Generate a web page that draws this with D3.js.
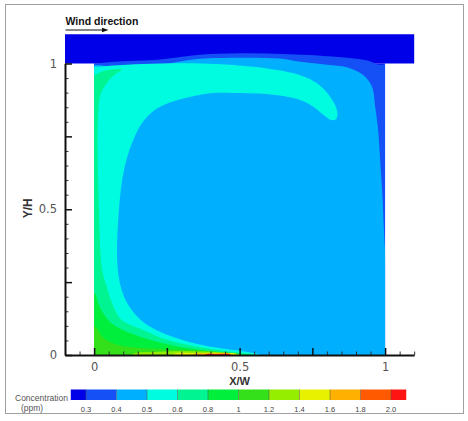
<!DOCTYPE html>
<html><head><meta charset="utf-8">
<script src="https://cdn.jsdelivr.net/npm/d3@7"></script>
<style>
html,body{margin:0;padding:0;background:#fff;}
svg{display:block;}
</style></head><body>
<svg id="chart" width="468" height="421"></svg>
<script>
// ---------- data ----------
const xMajorTicks = [0, 0.25, 0.5, 0.75, 1];
const xTickLabels = {"0": "0", "0.5": "0.5", "1": "1"};
const yMajorTicks = [0, 0.25, 0.5, 0.75, 1];
const yTickLabels = {"0": "0", "0.5": "0.5", "1": "1"};
const legendLabels = ["0.3", "0.4", "0.5", "0.6", "0.8", "1", "1.2", "1.4", "1.6", "1.8", "2.0"];
const levelColors = ["#0000e8", "#1450f5", "#00b0ff", "#00fce0", "#00f592", "#00ee3c",
                     "#33e01a", "#95ee00", "#e8f200", "#ffb000", "#ff5a00", "#ff1414"];

// contour regions (x/W, y/H), painted from lowest to highest level
const bandTop = [[-0.1, 1], [1.1, 1], [1.1, 1.1], [-0.1, 1.1]];
const cavityTopDark = [[0, 0.95], [1, 0.95], [1, 1.0], [0, 1.0]];
const level1Region = [[-0.05, 1.0], [0, 1.0], [0.066, 1.006], [0.227, 1.014], [0.364, 1.03], [0.5, 1.035],
  [0.65, 1.033], [0.82, 1.024], [0.94, 1.01], [0.975, 0.997], [1.05, 0.99], [1.06, -0.05], [-0.06, -0.05]];
const level2Region = [[-0.05, 0.975], [0.1, 0.985], [0.2, 0.99], [0.28, 1.004], [0.364, 1.016], [0.5, 1.02],
  [0.639, 1.017], [0.708, 1.006], [0.8, 0.996], [0.869, 0.987], [0.924, 0.961], [0.955, 0.92], [0.966, 0.852],
  [0.976, 0.772], [0.983, 0.669], [0.991, 0.543], [0.996, 0.429], [1.0, 0.36], [1.006, 0.3], [1.05, 0.2],
  [1.06, -0.05], [-0.06, -0.05]];
const level3Region = [[-0.05, 0.989], [0, 0.989], [0.112, 0.996], [0.227, 1.0], [0.364, 1.0], [0.478, 0.995],
  [0.595, 0.983], [0.708, 0.96], [0.766, 0.932], [0.811, 0.886], [0.835, 0.838], [0.832, 0.81], [0.815, 0.806],
  [0.8, 0.815], [0.753, 0.852], [0.708, 0.875], [0.593, 0.895], [0.478, 0.899], [0.40, 0.898], [0.34, 0.888],
  [0.26, 0.866], [0.205, 0.838], [0.168, 0.8], [0.142, 0.755], [0.122, 0.705], [0.106, 0.65], [0.095, 0.59],
  [0.087, 0.52], [0.082, 0.45], [0.079, 0.38], [0.08, 0.31], [0.087, 0.255], [0.101, 0.205], [0.125, 0.16],
  [0.16, 0.12], [0.205, 0.09], [0.26, 0.066], [0.32, 0.046], [0.39, 0.03], [0.478, 0.017], [0.536, 0.009],
  [0.57, 0.0], [0.6, -0.05], [-0.06, -0.05]];
const level4Region = [[-0.05, 0.96], [0, 0.96], [0.03, 0.973], [0.07, 0.98], [0.095, 0.98], [0.08, 0.968],
  [0.055, 0.947], [0.035, 0.92], [0.02, 0.885], [0.013, 0.8], [0.012, 0.735], [0.014, 0.6], [0.018, 0.45],
  [0.022, 0.35], [0.03, 0.28], [0.044, 0.233], [0.065, 0.17], [0.095, 0.12], [0.168, 0.086], [0.25, 0.052],
  [0.35, 0.029], [0.45, 0.014], [0.52, 0.006], [0.55, 0.0], [0.56, -0.05], [-0.06, -0.05]];
const level5Region = [[-0.05, 0.213], [0, 0.213], [0.017, 0.17], [0.048, 0.12], [0.08, 0.095], [0.112, 0.08],
  [0.2, 0.05], [0.306, 0.026], [0.4, 0.014], [0.48, 0.006], [0.51, 0.0], [0.53, -0.05], [-0.06, -0.05]];
const level6Region = [[-0.05, 0.1], [0, 0.1], [0.03, 0.06], [0.08, 0.035], [0.15, 0.025], [0.25, 0.02],
  [0.35, 0.016], [0.44, 0.009], [0.5, 0.0], [0.52, -0.05], [-0.06, -0.05]];
const level7Region = [[0.12, -0.05], [0.13, 0.0], [0.2, 0.01], [0.3, 0.013], [0.4, 0.011], [0.47, 0.005],
  [0.5, 0.0], [0.51, -0.05]];
const level8Region = [[0.26, -0.05], [0.27, 0.0], [0.35, 0.006], [0.44, 0.006], [0.49, 0.002], [0.5, -0.05]];
const level9Region = [[0.33, -0.05], [0.34, 0.0], [0.4, 0.004], [0.47, 0.003], [0.49, -0.05]];
const level11Region = [[0.37, -0.05], [0.38, 0.0], [0.43, 0.0025], [0.47, 0.0], [0.48, -0.05]];

// ---------- drawing ----------
const svg = d3.select("#chart");
const x = d3.scaleLinear().domain([-0.1, 1.1]).range([65, 414.2]);
const y = d3.scaleLinear().domain([0, 1.1]).range([355, 34.35]);

svg.append("rect").attr("x", 5.5).attr("y", 4.5).attr("width", 458).attr("height", 409)
  .attr("fill", "#fff").attr("stroke", "#a0a0a0").attr("stroke-width", 1);

const linClosed = d3.line().x(d => x(d[0])).y(d => y(d[1])).curve(d3.curveLinearClosed);
const smooth = d3.line().x(d => x(d[0])).y(d => y(d[1])).curve(d3.curveCatmullRomClosed.alpha(0.5));

svg.append("defs").append("clipPath").attr("id", "cav")
  .append("rect").attr("x", x(0)).attr("y", y(1.1)).attr("width", x(1) - x(0)).attr("height", y(0) - y(1.1));

svg.append("path").attr("d", linClosed(bandTop)).attr("fill", levelColors[0]);
const cav = svg.append("g").attr("clip-path", "url(#cav)");
cav.append("path").attr("d", linClosed(cavityTopDark)).attr("fill", levelColors[0]);
const regions = [[level1Region, 1], [level2Region, 2], [level3Region, 3], [level4Region, 4],
  [level5Region, 5], [level6Region, 6], [level7Region, 7], [level8Region, 8], [level9Region, 9], [level11Region, 11]];
regions.forEach(([pts, lv]) => {
  cav.append("path").attr("d", smooth(pts)).attr("fill", levelColors[lv]);
});

// axes
const fontTick = "'DejaVu Sans', sans-serif";
const xAxisG = svg.append("g").attr("transform", `translate(0,${y(0)})`);
xAxisG.call(d3.axisBottom(x).tickValues(d3.range(-0.1, 1.1001, 0.05).filter(v => Math.abs(v * 4 - Math.round(v * 4)) > 1e-6))
  .tickSizeInner(-3.5).tickSizeOuter(0).tickFormat(""));
xAxisG.call(g => g.select(".domain").remove());
const xAxisMajor = svg.append("g").attr("transform", `translate(0,${y(0)})`)
  .call(d3.axisBottom(x).tickValues(xMajorTicks).tickSizeInner(-7).tickSizeOuter(0).tickPadding(8)
    .tickFormat(d => xTickLabels[String(d)] || ""));
xAxisMajor.select(".domain").attr("stroke-width", 2).attr("stroke", "#111");
xAxisMajor.selectAll(".tick line").attr("stroke-width", 1.5).attr("stroke", "#111");
xAxisMajor.selectAll("text").attr("font-family", fontTick).attr("font-size", 11.5).attr("fill", "#555");
xAxisG.selectAll(".tick line").attr("stroke", "#333");

const yAxisG = svg.append("g").attr("transform", `translate(${x(-0.1)},0)`);
yAxisG.call(d3.axisLeft(y).tickValues(d3.range(0, 1.0001, 0.05).filter(v => Math.abs(v * 4 - Math.round(v * 4)) > 1e-6))
  .tickSizeInner(-3.5).tickSizeOuter(0).tickFormat(""));
yAxisG.call(g => g.select(".domain").remove());
yAxisG.selectAll(".tick line").attr("stroke", "#333");
const ySc = d3.scaleLinear().domain([0, 1]).range([y(0), y(1)]);
const yAxisMajor = svg.append("g").attr("transform", `translate(${x(-0.1)},0)`)
  .call(d3.axisLeft(ySc).tickValues(yMajorTicks).tickSizeInner(-7).tickSizeOuter(0).tickPadding(8)
    .tickFormat(d => yTickLabels[String(d)] || ""));
yAxisMajor.select(".domain").attr("stroke-width", 2).attr("stroke", "#111");
yAxisMajor.selectAll(".tick line").attr("stroke-width", 1.5).attr("stroke", "#111");
yAxisMajor.selectAll("text").attr("font-family", fontTick).attr("font-size", 11.5).attr("fill", "#555");

// titles
const fontBold = "'Liberation Sans', Arial, sans-serif";
svg.append("text").attr("x", x(0.5)).attr("y", 384.5).attr("text-anchor", "middle")
  .attr("font-family", fontBold).attr("font-weight", "bold").attr("font-size", 11).attr("fill", "#333").text("X/W");
svg.append("text").attr("transform", `translate(32,${y(0.5) - 1}) rotate(-90)`).attr("text-anchor", "middle")
  .attr("font-family", fontBold).attr("font-weight", "bold").attr("font-size", 12).attr("fill", "#333").text("Y/H");
svg.append("text").attr("x", 65.5).attr("y", 24.5).attr("font-family", fontBold).attr("font-weight", "bold")
  .attr("font-size", 10.5).attr("fill", "#111").text("Wind direction");
svg.append("line").attr("x1", 65.5).attr("x2", 104).attr("y1", 30).attr("y2", 30).attr("stroke", "#111").attr("stroke-width", 1);
svg.append("path").attr("d", "M102,27.8 L108.5,30 L102,32.2 Z").attr("fill", "#111");

// legend
const lx = d3.scaleLinear().domain([0, legendLabels.length - 1]).range([86, 391]);
const lg = svg.append("g");
levelColors.forEach((c, i) => {
  const x0 = lx(Math.max(i - 1, -0.5)), x1 = lx(Math.min(i, 10.5));
  lg.append("rect").attr("x", x0).attr("y", 389.5).attr("width", x1 - x0).attr("height", 10.5).attr("fill", c);
});
legendLabels.forEach((t, i) => {
  lg.append("line").attr("x1", lx(i)).attr("x2", lx(i)).attr("y1", 389.5).attr("y2", 400)
    .attr("stroke", "#555").attr("stroke-width", 0.7).attr("opacity", 0.7);
  lg.append("text").attr("x", lx(i)).attr("y", 412).attr("text-anchor", "middle")
    .attr("font-family", fontBold).attr("font-size", 7.5).attr("fill", "#444").text(t);
});
lg.append("text").attr("x", 15).attr("y", 400.5).attr("font-family", fontBold).attr("font-size", 8.5)
  .attr("fill", "#555").text("Concentration");
lg.append("text").attr("x", 21).attr("y", 410.5).attr("font-family", fontBold).attr("font-size", 8.5)
  .attr("fill", "#555").text("(ppm)");
</script>
</body></html>
